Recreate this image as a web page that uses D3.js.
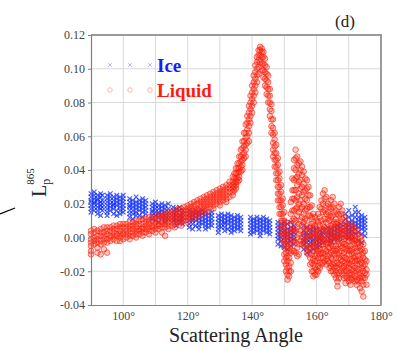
<!DOCTYPE html>
<html>
<head>
<meta charset="utf-8">
<script src="https://cdn.jsdelivr.net/npm/d3@7"></script>
<style>
  body { margin: 0; background: #fff; }
  svg { display: block; font-family: "Liberation Serif", "DejaVu Serif", serif; }
  .tick text { font-family: "Liberation Serif", serif; font-size: 12px; }
</style>
</head>
<body>
<svg id="chart" width="398" height="350"></svg>
<script>
// ticks
const yTicks = [-0.04, -0.02, 0, 0.02, 0.04, 0.06, 0.08, 0.10, 0.12];
const xTicks = [100, 120, 140, 160, 180];
const xGrid = [100, 110, 120, 130, 140, 150, 160, 170];

// ice points: [angle, values in 1e-3]
const iceCols = [
  [90, [26, 24, 22, 21, 19, 17, 15]], [91, [27, 25, 23, 21, 20, 18, 16]],
  [92, [25, 23, 22, 20, 18, 16, 14]], [93, [26, 24, 21, 19, 17, 13]],
  [93.5, [25, 22, 20, 18, 16]],
  [95, [25, 23, 21, 19, 17, 15, 13]], [96, [26, 24, 22, 20, 18, 16]],
  [97, [24, 22, 20, 19, 17, 14]], [98, [25, 23, 21, 19, 16, 13]],
  [99, [24, 22, 20, 18, 16, 14]], [100, [25, 23, 21, 19, 17, 15]],
  [102, [23, 21, 19, 18, 16, 14, 12]], [103, [22, 20, 18, 16, 14, 11]],
  [104, [24, 21, 19, 17, 15, 13]], [105, [22, 20, 18, 16, 13]],
  [106, [23, 21, 19, 17, 15, 12]], [107, [22, 20, 18, 16, 14]],
  [109, [20, 18, 16, 15, 13, 11]], [110, [21, 19, 17, 15, 13, 10]],
  [111, [19, 17, 15, 14, 12, 9]], [112, [20, 18, 16, 14, 12]],
  [113, [19, 17, 15, 13, 11, 9]], [114, [20, 17, 15, 13, 11]],
  [115.5, [18, 16, 14, 12, 10]], [116.5, [17, 15, 13, 11, 9, 7]],
  [117.5, [18, 16, 13, 11, 9]], [118.5, [16, 14, 12, 10, 8]],
  [120.5, [16, 14, 12, 10, 8, 6]], [121.5, [15, 13, 11, 10, 8, 5]],
  [122.5, [16, 14, 12, 10, 7]], [123.5, [15, 13, 11, 9, 7, 5]],
  [124.5, [16, 14, 12, 10, 8]], [125.5, [15, 13, 11, 9, 7, 5]],
  [126.5, [14, 12, 10, 8, 6]], [127.5, [15, 13, 11, 9, 7]],
  [129.5, [13, 11, 9, 7, 5, 3]], [130.5, [14, 12, 10, 8, 6]],
  [131.5, [13, 11, 9, 8, 6, 4]], [132.5, [14, 12, 10, 8, 5]],
  [133.5, [13, 11, 9, 7, 5, 3]], [134.5, [12, 10, 8, 6, 4]],
  [135.5, [13, 11, 9, 7, 5]], [136.5, [12, 10, 8, 6, 4]],
  [139.5, [12, 10, 8, 6, 4, 2]], [140.5, [11, 9, 7, 5, 3]],
  [141.5, [12, 10, 8, 6, 4]], [142.5, [11, 9, 7, 5, 3, 1]],
  [143.5, [12, 10, 8, 6, 4]], [144.5, [11, 9, 7, 5, 3]],
  [145.5, [10, 8, 6, 4, 2]],
  [148, [9, 7, 5, 3, 1, -1, -4]], [149, [8, 6, 4, 2, 0, -2, -5]],
  [150, [9, 7, 4, 2, 0, -3, -6]], [151, [8, 5, 3, 1, -1, -3, -7]],
  [152, [9, 6, 4, 2, 0, -2, -5]], [153, [7, 5, 3, 1, -1, -4]],
  [156, [7, 4, 2, 0, -2, -4, -7]], [157, [6, 3, 1, -1, -3, -6, -9]],
  [158, [5, 3, 1, -1, -3, -5, -8]], [159, [6, 4, 1, -1, -2, -4, -7]],
  [160, [5, 2, 0, -2, -4, -6]], [161, [4, 2, 0, -1, -3, -5]],
  [162, [5, 3, 1, -1, -3]],
  [163.5, [6, 4, 2, 0, -2]], [164.5, [5, 3, 1, -1, -3]],
  [165.5, [6, 4, 2, 0, -1]], [166.5, [7, 5, 3, 1, -1]],
  [167.5, [8, 6, 4, 2, 0]],
  [169, [14, 11, 8, 6, 4, 2, 0]], [170, [16, 12, 9, 7, 5, 3, 0]],
  [171, [13, 10, 8, 6, 4, 2, -1]], [172, [18, 15, 12, 9, 7, 5, 2]],
  [173, [15, 12, 10, 8, 6, 3, -2]], [174, [13, 11, 9, 7, 5, 2, -3]],
  [175, [12, 10, 8, 6, 4, 1]]
];

// liquid points: [angle, values in 1e-3]
const liquidCols = [
  [90, [4, 2, -1, -3, -5, -8, -10]], [91, [5, 3, 0, -2, -4]],
  [92, [4, 1, -1, -3, -6, -9]], [93, [5, 3, 1, -2, -4, -10]],
  [94, [6, 3, 1, -1, -3, -7]], [95, [6, 4, 2, -1, -3, -9]],
  [96, [6, 4, 1, 0, -2]], [97, [7, 5, 3, 1, -1]],
  [98, [7, 5, 2, 1, -2]], [99, [8, 6, 4, 2, 0, -2]],
  [100, [8, 6, 3, 2, -1]], [101, [8, 6, 4, 2, 0]],
  [102, [9, 7, 5, 3, 1, -1]], [103, [9, 7, 5, 3, 1]],
  [104, [10, 8, 6, 4, 2, 0]], [105, [10, 8, 5, 4, 2]],
  [106, [11, 8, 6, 5, 3, 1]], [107, [11, 9, 7, 5, 3]],
  [108, [12, 10, 8, 6, 4, 2]], [109, [12, 10, 7, 6, 4]],
  [110, [13, 11, 9, 7, 5, 3]], [111, [13, 11, 8, 7, 5]],
  [112, [14, 12, 10, 8, 6, 3]], [113, [14, 12, 10, 8, 6, 1]],
  [114, [15, 13, 11, 9, 7, 5]], [115, [15, 13, 11, 9, 7]],
  [116, [16, 14, 12, 10, 8, 6]], [117, [17, 15, 12, 11, 9]],
  [118, [17, 15, 13, 11, 9, 7]], [119, [18, 16, 14, 12, 10]],
  [120, [19, 17, 15, 13, 11, 9]], [121, [20, 18, 16, 14, 12]],
  [122, [21, 19, 17, 15, 13, 11]], [123, [22, 20, 17, 16, 14]],
  [124, [23, 21, 19, 17, 15, 13]], [125, [24, 22, 20, 18, 16]],
  [126, [25, 23, 21, 19, 17, 15]], [127, [26, 24, 22, 20, 18]],
  [128, [27, 25, 23, 21, 19, 17]], [129, [28, 26, 24, 22, 20]],
  [130, [29, 27, 25, 23, 21, 19]], [131, [30, 28, 26, 24, 22]],
  [132, [31, 29, 27, 25, 23, 21]], [133, [33, 31, 29, 27, 24]],
  [134, [36, 33, 31, 29, 27, 25]], [134.5, [38, 35, 32, 30, 28]],
  [135, [41, 38, 35, 33, 31, 29]], [135.5, [44, 41, 38, 35, 33]],
  [136, [48, 44, 41, 39, 36, 34]], [136.5, [52, 48, 45, 42, 39]],
  [137, [57, 53, 49, 46, 43, 40]], [137.5, [62, 57, 54, 50, 47]],
  [138, [67, 62, 59, 55, 52, 48]], [138.5, [72, 68, 64, 60, 56]],
  [139, [78, 74, 70, 66, 62, 57]], [139.5, [84, 80, 76, 72, 68]],
  [140, [90, 86, 82, 78, 74]], [140.5, [96, 92, 88, 84, 80]],
  [141, [102, 98, 94, 90, 86]], [141.5, [107, 104, 100, 96, 92]],
  [142, [111, 108, 105, 101, 97]], [142.5, [113, 111, 108, 104]],
  [143, [112, 110, 107, 103, 99]], [143.5, [110, 107, 103, 99, 95]],
  [144, [106, 102, 98, 94, 90]], [144.5, [101, 97, 93, 89, 85]],
  [145, [96, 92, 88, 84, 80]], [145.5, [88, 84, 80, 76, 72]],
  [146, [79, 75, 70, 66, 62]], [146.5, [70, 65, 61, 56, 52, 48]],
  [147, [62, 58, 54, 50, 46, 42]], [147.5, [55, 50, 46, 42, 38, 34]],
  [148, [47, 43, 38, 34, 30, 26, 22]], [148.5, [39, 35, 30, 26, 22, 18, 14]],
  [149, [31, 27, 22, 18, 14, 10, 6, 2]], [149.5, [23, 19, 14, 10, 6, 2, -2]],
  [150, [15, 10, 6, 2, -3, -6, -10, -14]], [150.5, [9, 4, 0, -4, -9, -12, -16, -20]],
  [151, [3, -2, -6, -11, -14, -18, -22, -25]], [151.5, [1, -4, -8, -12, -17, -20, -23]],
  [152, [21, 14, 8, 3, -4, -9, -15, -20]], [152.5, [35, 28, 23, 16, 10, 5, -2, -8]],
  [153, [46, 41, 34, 28, 23, 16, 11, 4, -2, -8]], [153.5, [52, 47, 40, 35, 28, 22, 17, 10, 4, -3, -9]],
  [154, [48, 43, 36, 31, 24, 18, 13, 6, 0, -6, -11]], [154.5, [44, 38, 33, 26, 20, 15, 8, 2, -4, -10]],
  [155, [45, 40, 34, 29, 22, 17, 10, 4, -2]], [155.5, [42, 37, 30, 25, 18, 12, 7, 0, -4]],
  [156, [39, 32, 27, 20, 14, 9, 2, -3]], [156.5, [35, 28, 23, 16, 11, 4, -2, -6]],
  [157, [34, 29, 22, 17, 10, 5, 0, -5, -9]], [157.5, [30, 25, 18, 13, 6, 1, -6, -10]],
  [158, [25, 18, 13, 6, 1, -6, -12, -16]], [158.5, [19, 12, 8, 2, -4, -10, -15, -20]],
  [159, [14, 9, 4, 0, -5, -8, -13, -16, -20, -23]], [159.5, [12, 7, 2, -3, -6, -11, -14, -18, -22]],
  [160, [10, 5, 2, -2, -7, -10, -14, -19, -22]], [160.5, [14, 9, 4, 0, -5, -8, -12, -17, -20]],
  [161, [18, 12, 7, 2, -2, -7, -10, -15, -18]], [161.5, [22, 17, 10, 5, 0, -4, -9, -12, -16]],
  [162, [26, 20, 15, 8, 4, -1, -4, -9, -12, -15]], [162.5, [28, 23, 16, 11, 6, 1, -2, -7, -10, -14]],
  [163, [24, 19, 14, 9, 4, -1, -4, -8, -13, -16]], [163.5, [20, 15, 11, 5, 2, -3, -6, -11, -14]],
  [164, [18, 13, 10, 5, 2, -3, -6, -10, -15, -18]], [164.5, [22, 17, 12, 7, 4, -1, -4, -9, -12, -17, -20]],
  [165, [24, 18, 13, 8, 3, 0, -5, -8, -13, -16, -20]], [165.5, [20, 15, 9, 6, 1, -2, -7, -10, -15, -18, -22]],
  [166, [16, 11, 8, 3, 0, -5, -8, -12, -17, -20, -24]], [166.5, [14, 9, 6, 1, -2, -7, -10, -15, -18, -22, -26, -29]],
  [167, [18, 13, 7, 4, -1, -4, -9, -12, -16, -21, -24]], [167.5, [20, 14, 9, 3, 0, -5, -8, -13, -16, -20]],
  [168, [16, 11, 5, 2, -3, -6, -11, -14, -18, -22]], [168.5, [12, 7, 4, -1, -4, -9, -12, -17, -20, -24]],
  [169, [9, 4, 1, -4, -7, -12, -15, -19, -23, -27]], [169.5, [8, 3, 0, -5, -8, -13, -16, -20, -24]],
  [170, [6, 1, -2, -7, -10, -15, -18, -22, -26]], [170.5, [8, 3, 0, -5, -8, -13, -16, -21, -24, -28]],
  [171, [6, 1, -2, -7, -10, -14, -19, -22, -25]], [171.5, [4, -1, -4, -9, -12, -17, -20, -24]],
  [172, [6, 1, -2, -6, -11, -14, -18, -23, -26]], [172.5, [4, -1, -4, -8, -13, -16, -20, -25, -28]],
  [173, [2, -3, -6, -11, -14, -19, -22, -26]], [173.5, [0, -5, -8, -13, -16, -21, -24, -30]],
  [174, [-2, -7, -10, -15, -18, -23, -26, -32]], [174.5, [-4, -9, -12, -17, -20, -24, -28, -35]],
  [175, [-8, -13, -16, -21, -24]], [175.5, [-14, -19, -22, -28]]
];

const legendX = [110, 130, 150];

const svg = d3.select('#chart');

const x = d3.scaleLinear().domain([90, 180]).range([91, 381]);
const y = d3.scaleLinear().domain([-0.04, 0.12]).range([305, 35]);

const flat = (cols) => cols.flatMap(([a, vals]) => vals.map((v) => ({ a, v: v / 1000 })));
const icePts = flat(iceCols);
const liquidPts = flat(liquidCols);

const blue = '#0a28ff';
const red = '#ff1e0a';

// grid
svg.append('g')
  .selectAll('line')
  .data(xGrid)
  .join('line')
  .attr('x1', (d) => x(d)).attr('x2', (d) => x(d))
  .attr('y1', y(0.12)).attr('y2', y(-0.04))
  .attr('stroke', '#d9d9d9').attr('stroke-width', 1);

svg.append('g')
  .selectAll('line')
  .data(yTicks.slice(1, -1))
  .join('line')
  .attr('x1', x(90)).attr('x2', x(180))
  .attr('y1', (d) => y(d)).attr('y2', (d) => y(d))
  .attr('stroke', '#d9d9d9').attr('stroke-width', 1);

// frame top / right
svg.append('path')
  .attr('d', `M${x(90)},${y(0.12)}H${x(180)}V${y(-0.04)}`)
  .attr('fill', 'none').attr('stroke', '#9a9a9a').attr('stroke-width', 2);

// ice markers
const cross = (s) => `M${-s},${-s}L${s},${s}M${-s},${s}L${s},${-s}`;
svg.append('g')
  .selectAll('path')
  .data(icePts)
  .join('path')
  .attr('transform', (d) => `translate(${x(d.a)},${y(d.v)})`)
  .attr('d', cross(2.3))
  .attr('stroke', blue).attr('stroke-opacity', 0.75).attr('stroke-width', 1.2);

// liquid markers
svg.append('g')
  .selectAll('circle')
  .data(liquidPts)
  .join('circle')
  .attr('cx', (d) => x(d.a)).attr('cy', (d) => y(d.v)).attr('r', 2.8)
  .attr('fill', red).attr('fill-opacity', 0.25)
  .attr('stroke', red).attr('stroke-opacity', 0.6).attr('stroke-width', 1);

// axes
const yAxis = svg.append('g')
  .attr('transform', `translate(${x(90)},0)`)
  .call(d3.axisLeft(y).tickValues(yTicks).tickSize(3).tickPadding(3)
    .tickFormat((d) => d.toFixed(2)));
const xAxis = svg.append('g')
  .attr('transform', `translate(0,${y(-0.04)})`)
  .call(d3.axisBottom(x).tickValues(xTicks).tickSize(0).tickPadding(6)
    .tickFormat((d) => d + '°'));
[yAxis, xAxis].forEach((g) => {
  g.attr('font-family', null).attr('font-size', null);
  g.select('.domain').attr('stroke', '#808080').attr('stroke-width', 1.2);
  g.selectAll('.tick line').attr('stroke', '#808080');
  g.selectAll('.tick text').attr('fill', '#444');
});

// legend
svg.append('g')
  .selectAll('path')
  .data(legendX)
  .join('path')
  .attr('transform', (d) => `translate(${d},65)`)
  .attr('d', cross(1.8))
  .attr('stroke', blue).attr('stroke-opacity', 0.35);
svg.append('g')
  .selectAll('circle')
  .data(legendX)
  .join('circle')
  .attr('cx', (d) => d).attr('cy', 90).attr('r', 2.3)
  .attr('fill', 'none').attr('stroke', red).attr('stroke-opacity', 0.3);
svg.append('text').attr('x', 157).attr('y', 72).text('Ice')
  .attr('fill', '#1a1aff').style('font-weight', 'bold').style('font-size', '19px');
svg.append('text').attr('x', 157).attr('y', 97).text('Liquid')
  .attr('fill', '#ff1a10').style('font-weight', 'bold').style('font-size', '19px');

// titles
svg.append('text').attr('x', 345).attr('y', 27).attr('text-anchor', 'middle')
  .text('(d)').attr('fill', '#222').style('font-size', '17px');

svg.append('text').attr('x', (x(90) + x(180)) / 2).attr('y', 342)
  .attr('text-anchor', 'middle').text('Scattering Angle')
  .attr('fill', '#222').style('font-size', '20px');

const yl = svg.append('text')
  .attr('transform', 'translate(46,197) rotate(-90)')
  .attr('fill', '#222').style('font-size', '20px');
yl.append('tspan').text('L');
yl.append('tspan').text('p').attr('dy', 4).style('font-size', '12px');
yl.append('tspan').text('865').attr('dx', -6).attr('dy', -16).style('font-size', '11px');

// stray annotation stroke at left edge
svg.append('line').attr('x1', 0).attr('y1', 214).attr('x2', 15).attr('y2', 208)
  .attr('stroke', '#000').attr('stroke-width', 1.3);
</script>
</body>
</html>
